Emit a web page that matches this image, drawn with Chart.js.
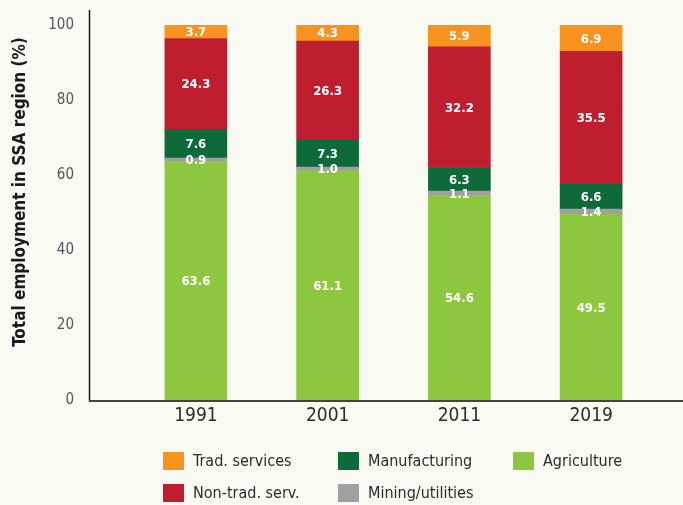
<!DOCTYPE html>
<html>
<head>
<meta charset="utf-8">
<script src="https://cdn.jsdelivr.net/npm/chart.js@4.4.1/dist/chart.umd.min.js"></script>
<style>
  html, body { margin: 0; padding: 0; background: #f9faf1; }
  #wrap { position: relative; width: 683px; height: 505px; font-family: "DejaVu Sans Condensed", "Liberation Sans Narrow", sans-serif; }
  #legend { position: absolute; left: 163px; top: 452px; display: grid; grid-template-rows: 32px 32px; grid-auto-flow: column; grid-auto-columns: 175px; }
  .item { display: flex; align-items: flex-start; font-size: 16px; color: #2b2b2b; line-height: 18px; }
  .box { width: 21px; height: 18px; margin-right: 9px; flex: none; }
</style>
</head>
<body>
<div id="wrap">
  <canvas id="chart" width="683" height="505"></canvas>
  <div id="legend"></div>
</div>
<script>
const years = ['1991', '2001', '2011', '2019']
const agriculture = [63.6, 61.1, 54.6, 49.5]
const mining = [0.9, 1.0, 1.1, 1.4]
const manufacturing = [7.6, 7.3, 6.3, 6.6]
const nonTradServ = [24.3, 26.3, 32.2, 35.5]
const tradServices = [3.7, 4.3, 5.9, 6.9]
const yTicks = [0, 20, 40, 60, 80, 100]
const yTitle = 'Total employment in SSA region (%)'

const fontFamily = '"DejaVu Sans Condensed", "Liberation Sans Narrow", sans-serif'

const datasets = [
	{ label: 'Agriculture', data: agriculture, backgroundColor: '#8dc63f' },
	{ label: 'Mining/utilities', data: mining, backgroundColor: '#a19f9f' },
	{ label: 'Manufacturing', data: manufacturing, backgroundColor: '#0f6a3b' },
	{ label: 'Non-trad. serv.', data: nonTradServ, backgroundColor: '#be1e2d' },
	{ label: 'Trad. services', data: tradServices, backgroundColor: '#f7931e' },
]

// axis lines drawn outside the chart area, plus the rotated title
const axisLines = {
	id: 'axisLines',
	afterDraw(chart) {
		const ctx = chart.ctx
		const bottom = chart.chartArea.bottom
		ctx.save()
		ctx.strokeStyle = '#1a1a1a'
		ctx.lineWidth = 1.5
		ctx.beginPath()
		ctx.moveTo(89.5, 10)
		ctx.lineTo(89.5, bottom + 1.5)
		ctx.stroke()
		ctx.strokeStyle = '#444'
		ctx.lineWidth = 2
		ctx.beginPath()
		ctx.moveTo(89, bottom + 1)
		ctx.lineTo(683, bottom + 1)
		ctx.stroke()

		ctx.translate(21, 192)
		ctx.rotate(-Math.PI / 2)
		ctx.fillStyle = '#1a1a1a'
		ctx.font = 'bold 17px ' + fontFamily
		ctx.textAlign = 'center'
		ctx.textBaseline = 'middle'
		ctx.fillText(yTitle, 0, 0)
		ctx.restore()
	},
}

const segmentLabels = {
	id: 'segmentLabels',
	afterDatasetsDraw(chart) {
		const ctx = chart.ctx
		ctx.save()
		ctx.fillStyle = '#ffffff'
		ctx.font = 'bold 13px ' + fontFamily
		ctx.textAlign = 'center'
		ctx.textBaseline = 'middle'
		chart.data.datasets.forEach((ds, i) => {
			chart.getDatasetMeta(i).data.forEach((bar, j) => {
				const y = (bar.y + bar.base) / 2
				ctx.fillText(ds.data[j].toFixed(1), bar.x, y + 1)
			})
		})
		ctx.restore()
	},
}

const chart = new Chart(document.getElementById('chart'), {
	type: 'bar',
	data: { labels: years, datasets: datasets },
	options: {
		responsive: false,
		animation: false,
		layout: { padding: { top: 25, right: 26, left: 0, bottom: 0 } },
		datasets: { bar: { barThickness: 62 } },
		plugins: { legend: { display: false }, tooltip: { enabled: false } },
		scales: {
			x: {
				stacked: true,
				grid: { display: false, drawTicks: false },
				border: { display: false },
				ticks: { color: '#2b2b2b', font: { family: fontFamily, size: 19 }, padding: 5 },
				afterFit(scale) { scale.height = 105 },
			},
			y: {
				stacked: true,
				min: 0,
				max: 100,
				afterBuildTicks(scale) { scale.ticks = yTicks.map((v) => ({ value: v })) },
				grid: { display: false, drawTicks: false },
				border: { display: false },
				ticks: { color: '#555', font: { family: fontFamily, size: 15 }, padding: 56 },
				afterFit(scale) {
					// big tick padding pushes the labels left; keep it out of the layout padding
					scale.width = 130
					scale.paddingTop = 10
					scale.paddingBottom = 10
				},
			},
		},
	},
	plugins: [axisLines, segmentLabels],
})

// legend in the reference order: columns read top-down, stack reversed
const legend = document.getElementById('legend')
datasets.slice().reverse().forEach((ds) => {
	const item = document.createElement('div')
	item.className = 'item'
	item.innerHTML = '<span class="box" style="background:' + ds.backgroundColor + '"></span><span>' + ds.label + '</span>'
	legend.appendChild(item)
})
</script>
</body>
</html>
